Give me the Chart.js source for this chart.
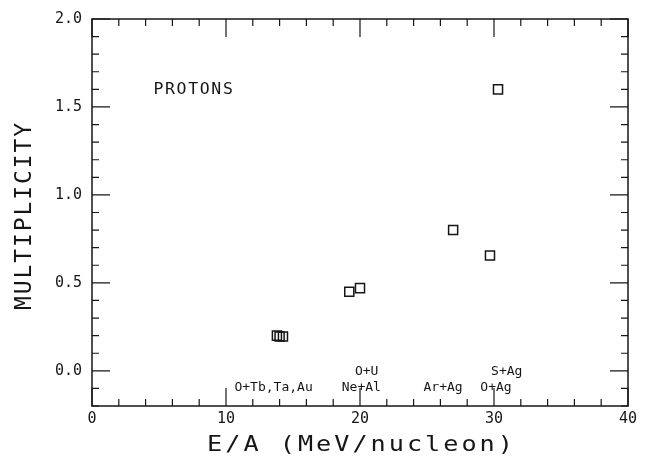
<!DOCTYPE html>
<html>
<head>
<meta charset="utf-8">
<script src="https://cdn.jsdelivr.net/npm/chart.js@4.4.1/dist/chart.umd.min.js"></script>
<style>
  html, body { margin: 0; padding: 0; background: #fff; }
  #box { width: 653px; height: 458px; }
</style>
</head>
<body>
<div id="box"><canvas id="graph-box" width="653" height="458"></canvas></div>
<script>
// proton multiplicity vs beam energy per nucleon
const energyPerNucleon = [13.8, 14.0, 14.25, 19.2, 20.0, 26.95, 29.7, 30.3];
const multiplicity = [0.20, 0.195, 0.195, 0.45, 0.47, 0.80, 0.655, 1.60];

const xTickValues = [0, 10, 20, 30, 40];
const yTickValues = [0.0, 0.5, 1.0, 1.5, 2.0];

// reaction names written along the bottom of the plot
const reactionNames = ['O+Tb,Ta,Au', 'O+U', 'Ne+Al', 'Ar+Ag', 'S+Ag', 'O+Ag'];
const reactionX = [13.55, 20.5, 20.1, 26.2, 30.95, 30.15];
const reactionY = [-0.097, -0.005, -0.097, -0.097, -0.005, -0.097];

const ink = '#161616';
const mono = '"DejaVu Sans Mono", monospace';

const ctx = document.getElementById('graph-box');

// wide plotter-style lettering: stretch glyphs sideways and add a little gap
function wideText(c, text, x, y, stretch, spacing) {
  c.save();
  c.translate(x, y);
  c.scale(stretch, 1);
  c.letterSpacing = spacing + 'px';
  c.fillText(text, spacing / 2, 0);
  c.restore();
}

// inward ticks on all four sides plus the box
const frameTicks = {
  id: 'frameTicks',
  afterDatasetsDraw(chart) {
    const c = chart.ctx;
    const a = chart.chartArea;
    const x = chart.scales.x;
    const y = chart.scales.y;
    c.save();
    c.strokeStyle = ink;
    c.lineWidth = 1.2;
    c.beginPath();
    for (let v = 0; v <= 40; v += 2) {
      const px = x.getPixelForValue(v);
      const len = v % 10 === 0 ? 18 : 7;
      c.moveTo(px, a.bottom); c.lineTo(px, a.bottom - len);
      c.moveTo(px, a.top); c.lineTo(px, a.top + len);
    }
    for (let i = -2; i <= 20; i++) {
      const py = y.getPixelForValue(i / 10);
      const len = i % 5 === 0 ? 18 : 7;
      c.moveTo(a.left, py); c.lineTo(a.left + len, py);
      c.moveTo(a.right, py); c.lineTo(a.right - len, py);
    }
    c.stroke();
    c.lineWidth = 1.5;
    c.strokeRect(a.left, a.top, a.right - a.left, a.bottom - a.top);
    c.restore();
  }
};

// axis titles and text inside the plot
const plotText = {
  id: 'plotText',
  afterDraw(chart) {
    const c = chart.ctx;
    const a = chart.chartArea;
    const x = chart.scales.x;
    const y = chart.scales.y;
    c.save();
    c.fillStyle = ink;
    c.textAlign = 'center';
    c.textBaseline = 'middle';

    c.font = '13px ' + mono;
    reactionNames.forEach((name, i) => {
      c.fillText(name, x.getPixelForValue(reactionX[i]), y.getPixelForValue(reactionY[i]));
    });

    c.font = '15px ' + mono;
    wideText(c, 'PROTONS', x.getPixelForValue(7.55), y.getPixelForValue(1.598), 1.1, 1.5);

    c.font = '21px ' + mono;
    wideText(c, 'E/A (MeV/nucleon)', (a.left + a.right) / 2, a.bottom + 40, 1.2, 2.5);

    c.translate(a.left - 67, (a.top + a.bottom) / 2 + 4);
    c.rotate(-Math.PI / 2);
    c.font = '23px ' + mono;
    wideText(c, 'MULTIPLICITY', 0, 0, 1, 1.9);
    c.restore();
  }
};

const myChart = new Chart(ctx, {
  type: 'scatter',
  data: {
    datasets: [{
      label: 'Protons',
      data: energyPerNucleon.map((e, i) => ({ x: e, y: multiplicity[i] })),
      pointStyle: 'rect',
      pointRadius: 6.4,
      borderColor: ink,
      backgroundColor: 'rgba(255,255,255,0)',
      borderWidth: 1.5
    }]
  },
  plugins: [frameTicks, plotText],
  options: {
    responsive: false,
    animation: false,
    layout: { padding: { top: 14, right: 25, left: 0, bottom: 0 } },
    plugins: {
      legend: { display: false },
      tooltip: { enabled: false }
    },
    scales: {
      x: {
        type: 'linear',
        min: 0,
        max: 40,
        afterBuildTicks: (s) => { s.ticks = xTickValues.map(v => ({ value: v })); },
        afterFit: (s) => { s.height = 52; },
        grid: { display: false, drawTicks: false },
        border: { display: false },
        ticks: {
          padding: 4,
          color: ink,
          maxRotation: 0,
          font: { family: mono, size: 15 }
        }
      },
      y: {
        type: 'linear',
        min: -0.2,
        max: 2.0,
        afterBuildTicks: (s) => { s.ticks = yTickValues.map(v => ({ value: v })); },
        afterFit: (s) => { s.width = 92; },
        grid: { display: false, drawTicks: false },
        border: { display: false },
        ticks: {
          padding: 10,
          color: ink,
          font: { family: mono, size: 15 },
          callback: (v) => Number(v).toFixed(1)
        }
      }
    }
  }
});
</script>
</body>
</html>
